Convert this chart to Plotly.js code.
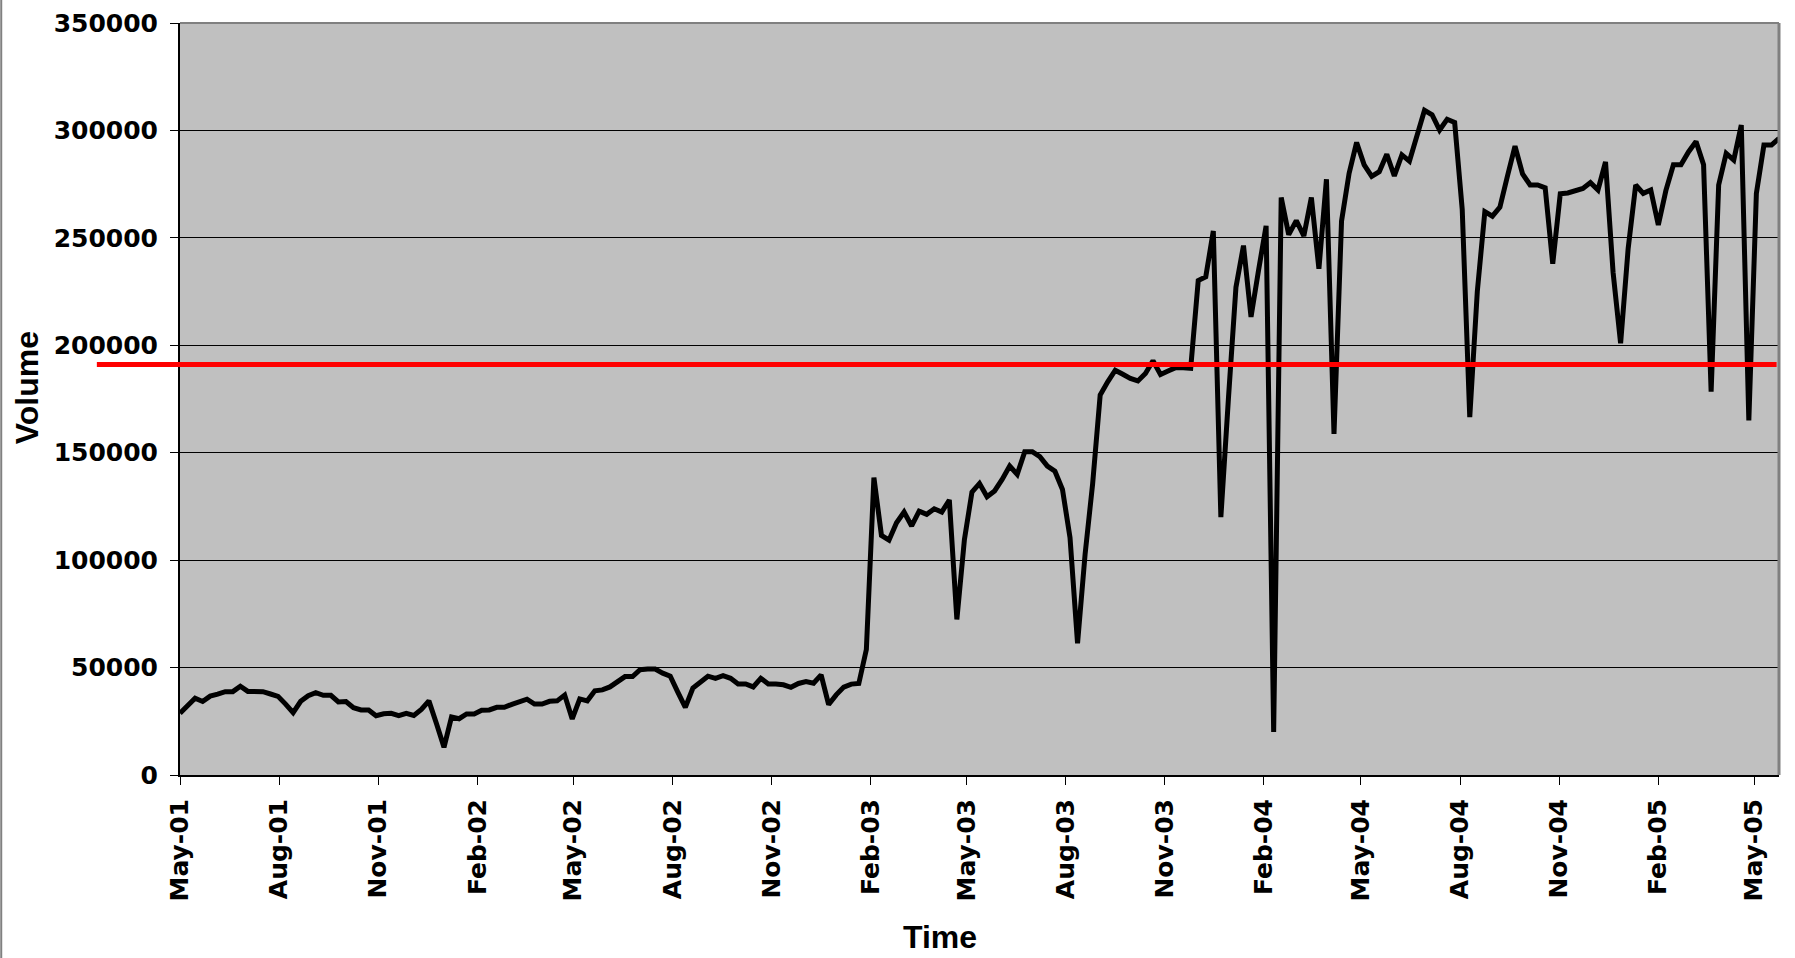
<!DOCTYPE html>
<html>
<head>
<meta charset="utf-8">
<script src="https://cdn.plot.ly/plotly-3.0.1.min.js"></script>
<style>
  html, body { margin: 0; padding: 0; background: #ffffff; }
  #chart { width: 1795px; height: 958px; }
</style>
</head>
<body>
<div id="chart"></div>
<script>
// ---- data ----
const seriesStart = '2001-05-01';      // first weekly observation
const weekMs = 7 * 24 * 3600 * 1000;   // weekly spacing
const volume = [
  28700, 32200, 35700, 34200, 36700, 37600, 38800, 38800, 41300, 38900,
  38800, 38800, 37700, 36600, 33000, 29000, 34300, 36900, 38300, 37100,
  37100, 34000, 34200, 31300, 30300, 30300, 27600, 28500, 28700, 27600,
  28700, 27700, 30500, 34500, 24000, 12900, 27000, 26200, 28400, 28400,
  30100, 30300, 31500, 31500, 32900, 34200, 35300, 33000, 33000, 34300,
  34500, 37200, 26100, 35400, 34500, 39200, 39600, 41000, 43300, 45800,
  45800, 49000, 49300, 49300, 47400, 46000, 38600, 31500, 40500, 43500,
  46000, 45000, 46200, 45000, 42400, 42400, 41000, 45000, 42400, 42400,
  42000, 40800, 42600, 43500, 42700, 46600, 32800, 37300, 40900, 42300,
  42600, 58400, 138400, 111500, 109300, 117400, 122400, 115900, 122800, 121300,
  123900, 122400, 128000, 72400, 109600, 131700, 135700, 129500, 132200, 137600,
  143800, 139900, 150500, 150500, 148200, 143800, 141400, 132900, 110500, 61300,
  102700, 135600, 176800, 183000, 188400, 186500, 184600, 183400, 186900, 192800,
  186400, 188000, 189600, 189500, 189300, 230100, 231900, 253200, 120000, 175000,
  227000, 246400, 213200, 235000, 255600, 20000, 268800, 251500, 258000, 250900,
  268800, 235600, 277300, 158700, 257800, 280000, 294400, 284000, 278600, 280800,
  288900, 278800, 288600, 285700, 297500, 309400, 307300, 300200, 305200, 303700,
  263200, 166600, 225000, 262200, 260100, 264300, 278800, 292700, 279800, 274600,
  274600, 273300, 237900, 270500, 270900, 272000, 273000, 275700, 272300, 285300,
  234000, 200900, 245000, 274600, 270700, 272300, 256000, 272000, 284000, 284000,
  290000, 294800, 284000, 178400, 274600, 289300, 286200, 302500, 165000, 270700,
  293200, 293200, 296300
];
const thresholdLevel = 191000;          // red reference line
const xRange = ['2001-05-01', '2005-05-24'];
const yMax = 350000;
const yStep = 50000;
const xTitle = 'Time';
const yTitle = 'Volume';

// ---- plot ----
const trace = {
  type: 'scatter',
  mode: 'lines',
  x0: seriesStart,
  dx: weekMs,
  y: volume,
  line: { color: '#000000', width: 5, shape: 'linear' },
  hoverinfo: 'x+y',
  showlegend: false
};

const tickFont = { family: 'DejaVu Sans, Arial, sans-serif', size: 25, color: '#000000', weight: 'bold' };
const titleFont = { family: 'Liberation Sans, Arial, sans-serif', size: 32, color: '#000000', weight: 'bold' };

const layout = {
  width: 1795,
  height: 958,
  margin: { l: 180, r: 16, t: 23, b: 183, pad: 0 },
  paper_bgcolor: '#ffffff',
  plot_bgcolor: '#c0c0c0',
  showlegend: false,
  xaxis: {
    type: 'date',
    range: xRange,
    tick0: seriesStart,
    dtick: 'M3',
    tickformat: '%b-%y',
    tickangle: -90,
    ticks: 'outside',
    ticklen: 8,
    tickwidth: 1,
    tickcolor: '#000000',
    showgrid: false,
    zeroline: false,
    showline: true,
    linecolor: '#000000',
    linewidth: 2,
    tickfont: tickFont,
    ticklabelstandoff: 4,
    fixedrange: true
  },
  yaxis: {
    range: [0, yMax],
    dtick: yStep,
    tick0: 0,
    tickformat: 'd',
    ticks: 'outside',
    ticklen: 8,
    tickwidth: 1,
    tickcolor: '#000000',
    showgrid: true,
    gridcolor: '#000000',
    gridwidth: 1,
    zeroline: false,
    showline: true,
    linecolor: '#000000',
    linewidth: 2,
    tickfont: tickFont,
    ticklabelstandoff: 7,
    fixedrange: true
  },
  annotations: [
    {
      text: xTitle, xref: 'paper', yref: 'paper',
      x: 0.475, y: -0.215, xanchor: 'center', yanchor: 'middle',
      showarrow: false, font: titleFont
    },
    {
      text: yTitle, xref: 'paper', yref: 'paper',
      x: -0.096, y: 0.515, xanchor: 'center', yanchor: 'middle',
      textangle: -90, showarrow: false, font: titleFont
    }
  ],
  shapes: [
    // plot-area border (top and right), grey
    { type: 'line', xref: 'paper', yref: 'paper', x0: 0, x1: 1, y0: 1, y1: 1,
      line: { color: '#808080', width: 2 }, layer: 'above' },
    { type: 'line', xref: 'paper', yref: 'paper', x0: 1, x1: 1, y0: 0, y1: 1,
      line: { color: '#808080', width: 3 }, layer: 'above' },
    // chart-area border on the left edge of the picture
    { type: 'line', xref: 'paper', yref: 'paper', x0: -0.1118, x1: -0.1118, y0: -0.25, y1: 1.04,
      line: { color: '#808080', width: 2 }, layer: 'above' },
    // red reference level
    { type: 'line', xref: 'paper', yref: 'y', x0: -0.052, x1: 0.9985,
      y0: thresholdLevel, y1: thresholdLevel,
      line: { color: '#ff0000', width: 5 }, layer: 'above' }
  ]
};

Plotly.newPlot('chart', [trace], layout, { displayModeBar: false, staticPlot: true });
</script>
</body>
</html>
